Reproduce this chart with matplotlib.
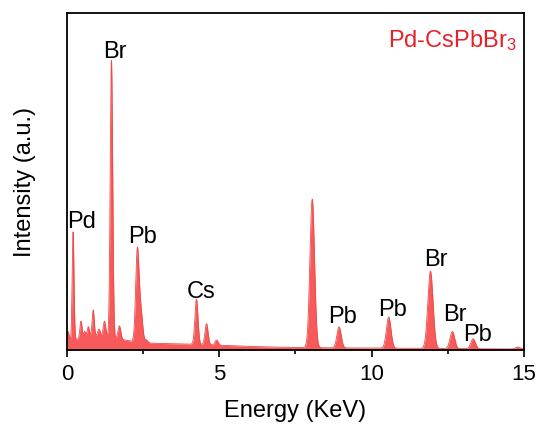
import numpy as np
import matplotlib
matplotlib.use('Agg')
import matplotlib.pyplot as plt

plt.rcParams['font.family'] = ['Liberation Sans', 'DejaVu Sans']
plt.rcParams['mathtext.fontset'] = 'custom'
plt.rcParams['mathtext.rm'] = 'Liberation Sans'
plt.rcParams['mathtext.default'] = 'regular'

# EDS 峰表：能量 (keV)、高度 (a.u.)、宽度 sigma (keV)
peak_energy = [0.04, 0.20, 0.46, 0.58, 0.70, 0.86, 1.05, 1.23, 1.46, 1.72,
               2.31, 2.43, 2.60, 4.25, 4.58, 4.91, 8.05, 8.93, 10.56, 11.93,
               12.65, 13.33, 14.80, 0.90, 3.00, 7.00]
peak_height = [10, 108, 17, 6, 10, 26, 7, 15, 276, 13,
               92, 28, 3, 45, 21, 5, 148, 21, 31, 77,
               17, 10, 2, 10, 4.5, 2.2]
peak_sigma = [0.03, 0.03, 0.035, 0.03, 0.035, 0.035, 0.04, 0.04, 0.04, 0.045,
              0.055, 0.055, 0.05, 0.05, 0.05, 0.05, 0.075, 0.07, 0.075, 0.085,
              0.075, 0.075, 0.08, 0.8, 2.0, 6.0]

# 峰标注
label_text = ['Pd', 'Br', 'Pb', 'Cs', 'Pb', 'Pb', 'Br', 'Br', 'Pb']
label_x = [0.49, 1.57, 2.48, 4.40, 9.03, 10.67, 12.10, 12.73, 13.47]
label_y = [122, 291, 107, 52, 27, 34, 84, 29, 9]

energy = np.linspace(0, 15, 3001)
intensity = np.zeros_like(energy)
for e0, h, s in zip(peak_energy, peak_height, peak_sigma):
    intensity += h * np.exp(-0.5 * ((energy - e0) / s) ** 2)

fig = plt.figure(figsize=(5.41, 4.28), dpi=100)
ax = fig.add_axes([0.1238, 0.1822, 0.8447, 0.7874])

ax.fill_between(energy, 0, intensity, color='#f65a5a', lw=0)
ax.plot(energy, intensity, color='#f04848', lw=0.6)

for t, x, y in zip(label_text, label_x, label_y):
    ax.text(x, y, t, ha='center', va='baseline', fontsize=17)

ax.text(0.985, 0.898, 'Pd-CsPbBr$_3$', transform=ax.transAxes, ha='right',
        va='baseline', fontsize=17, color='#e52228')

ax.set_xlim(0, 15)
ax.set_ylim(0, 336)
ax.set_xticks([0, 5, 10, 15])
ax.set_xticks([2.5, 7.5, 12.5], minor=True)
ax.set_yticks([])
ax.tick_params(axis='x', which='major', direction='out', length=5, width=1.2, labelsize=16, pad=5)
ax.tick_params(axis='x', which='minor', direction='out', length=3, width=1.2)
for sp in ax.spines.values():
    sp.set_linewidth(1.3)

ax.set_xlabel('Energy (KeV)', fontsize=17, labelpad=11)
ax.set_ylabel('Intensity (a.u.)', fontsize=17, labelpad=22)

fig.savefig('out.png', dpi=100)
